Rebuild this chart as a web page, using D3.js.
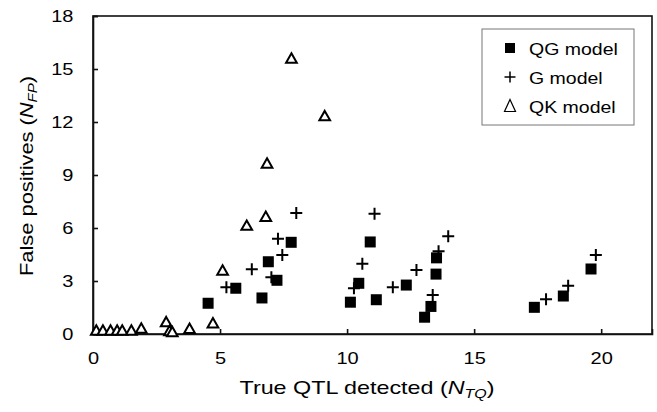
<!DOCTYPE html>
<html>
<head>
<meta charset="utf-8">
<script src="https://cdn.jsdelivr.net/npm/d3@7/dist/d3.min.js"></script>
<style>
body{margin:0;background:#fff;}
text{font-family:Arial,"Liberation Sans",sans-serif;fill:#000;}
</style>
</head>
<body>
<div id="chart"></div>
<script>
//data
var qgX = [4.53,5.62,6.65,6.9,7.24,7.8,10.13,10.46,10.91,11.15,12.33,13.05,13.3,13.5,13.52,17.37,18.51,19.6];
var qgY = [1.74,2.59,2.04,4.09,3.04,5.19,1.8,2.87,5.21,1.94,2.77,0.95,1.56,3.39,4.31,1.51,2.15,3.68];

var gX = [5.25,6.25,7.02,7.28,7.45,8.0,10.27,10.6,11.08,11.8,12.73,13.37,13.6,13.98,17.83,18.7,19.79];
var gY = [2.64,3.67,3.21,5.39,4.47,6.85,2.59,3.97,6.81,2.64,3.62,2.21,4.68,5.54,1.96,2.73,4.47];

var qkX = [0.13,0.39,0.69,0.95,1.15,1.51,1.9,2.88,3.01,3.12,3.8,4.72,5.1,6.05,6.8,6.85,7.81,9.12];
var qkY = [0.2,0.2,0.2,0.2,0.2,0.2,0.32,0.68,0.18,0.12,0.3,0.62,3.6,6.14,6.64,9.66,15.6,12.34];

var xTicks = [0,5,10,15,20];
var yTicks = [0,3,6,9,12,15,18];
var legendLabels = ['QG model','G model','QK model'];

var w = 657, h = 412;
var mLeft = 93, mRight = 652, mTop = 16, mBottom = 334;
var stretch = 1.25; //picture's glyphs are a bit wide

var svg = d3.select('div#chart').append('svg')
			.attr('width',w)
			.attr('height',h);

var x = d3.scaleLinear().domain([0,22]).range([mLeft,mRight]);
var y = d3.scaleLinear().domain([0,18]).range([mBottom,mTop]);

//frame
svg.append('rect')
	.attr('x',mLeft).attr('y',mTop)
	.attr('width',mRight-mLeft).attr('height',mBottom-mTop)
	.attr('fill','none')
	.attr('stroke','#111')
	.attr('stroke-width',1.6);

//axes, ticks inside
var xAxis = svg.append('g')
	.attr('transform','translate(0,'+mBottom+')')
	.call(d3.axisBottom(x).tickValues(xTicks).tickSize(-5).tickPadding(19).tickFormat(d3.format('d')));
var yAxis = svg.append('g')
	.attr('transform','translate('+mLeft+',0)')
	.call(d3.axisLeft(y).tickValues(yTicks).tickSize(-5).tickPadding(19).tickFormat(d3.format('d')));

[xAxis,yAxis].forEach(function(a){
	a.select('.domain').attr('stroke','#111').attr('stroke-width',1.6);
	a.selectAll('.tick line').attr('stroke','#111').attr('stroke-width',1.6);
	a.selectAll('.tick text').attr('font-size',16).attr('font-family','Arial, "Liberation Sans", sans-serif').attr('fill','#000');
});
xAxis.selectAll('.tick text').attr('transform','scale('+stretch+',1)');
yAxis.selectAll('.tick text')
	.attr('x',-19.5/stretch)
	.attr('transform','scale('+stretch+',1)');

//axis titles
var xt = svg.append('text')
	.attr('x',367)
	.attr('y',394)
	.attr('text-anchor','middle')
	.attr('font-size',19)
	.attr('textLength',255)
	.attr('lengthAdjust','spacingAndGlyphs');
xt.append('tspan').text('True QTL detected (');
xt.append('tspan').attr('font-style','italic').text('N');
xt.append('tspan').attr('font-style','italic').attr('font-size',13).attr('dy',4).text('TQ');
xt.append('tspan').attr('dy',-4).text(')');

var yt = svg.append('text')
	.attr('transform','translate(33,176) rotate(-90)')
	.attr('text-anchor','middle')
	.attr('font-size',19)
	.attr('textLength',200)
	.attr('lengthAdjust','spacingAndGlyphs');
yt.append('tspan').text('False positives (');
yt.append('tspan').attr('font-style','italic').text('N');
yt.append('tspan').attr('font-style','italic').attr('font-size',13).attr('dy',4).text('FP');
yt.append('tspan').attr('dy',-4).text(')');

//marker paths
var sq = 5.5;
var plusPath = 'M-6,0H6M0,-6V6';
var triPath = function(s){ return 'M0,'+(-s)+'L'+(s*1.05)+','+(s*0.85)+'L'+(-s*1.05)+','+(s*0.85)+'Z'; };

var qk = d3.zip(qkX,qkY);
svg.append('g').selectAll('path').data(qk).enter()
	.append('path')
	.attr('d',triPath(5.1))
	.attr('transform',function(d){return 'translate('+x(d[0])+','+y(d[1])+')';})
	.attr('fill','#fff')
	.attr('stroke','#000')
	.attr('stroke-width',2)
	.attr('stroke-linejoin','miter');

var qg = d3.zip(qgX,qgY);
svg.append('g').selectAll('rect').data(qg).enter()
	.append('rect')
	.attr('x',function(d){return x(d[0])-sq;})
	.attr('y',function(d){return y(d[1])-sq;})
	.attr('width',sq*2).attr('height',sq*2)
	.attr('fill','#000');

var g = d3.zip(gX,gY);
svg.append('g').selectAll('path').data(g).enter()
	.append('path')
	.attr('d',plusPath)
	.attr('transform',function(d){return 'translate('+x(d[0])+','+y(d[1])+')';})
	.attr('stroke','#000')
	.attr('stroke-width',2);

//legend
var legend = svg.append('g').attr('id','legend');
legend.append('rect')
	.attr('x',482).attr('y',29)
	.attr('width',152).attr('height',96)
	.attr('fill','#fff')
	.attr('stroke','#777')
	.attr('stroke-width',1);

var items = legend.selectAll('g.item').data(legendLabels).enter()
	.append('g')
	.attr('class','item')
	.attr('transform',function(d,i){return 'translate(510,'+(48+i*29)+')';});

items.append('text')
	.attr('transform','translate(19,6.5) scale(1.22,1)')
	.attr('font-size',16)
	.text(function(d){return d;});

items.filter(function(d,i){return i===0;})
	.append('rect').attr('x',-5).attr('y',-5).attr('width',10).attr('height',10).attr('fill','#000');
items.filter(function(d,i){return i===1;})
	.append('path').attr('d','M-5.5,0H5.5M0,-5.5V5.5').attr('stroke','#000').attr('stroke-width',1.5);
items.filter(function(d,i){return i===2;})
	.append('path').attr('d','M0,-6.5L5.5,5.5L-5.5,5.5Z').attr('fill','none').attr('stroke','#000').attr('stroke-width',1.2);
</script>
</body>
</html>
